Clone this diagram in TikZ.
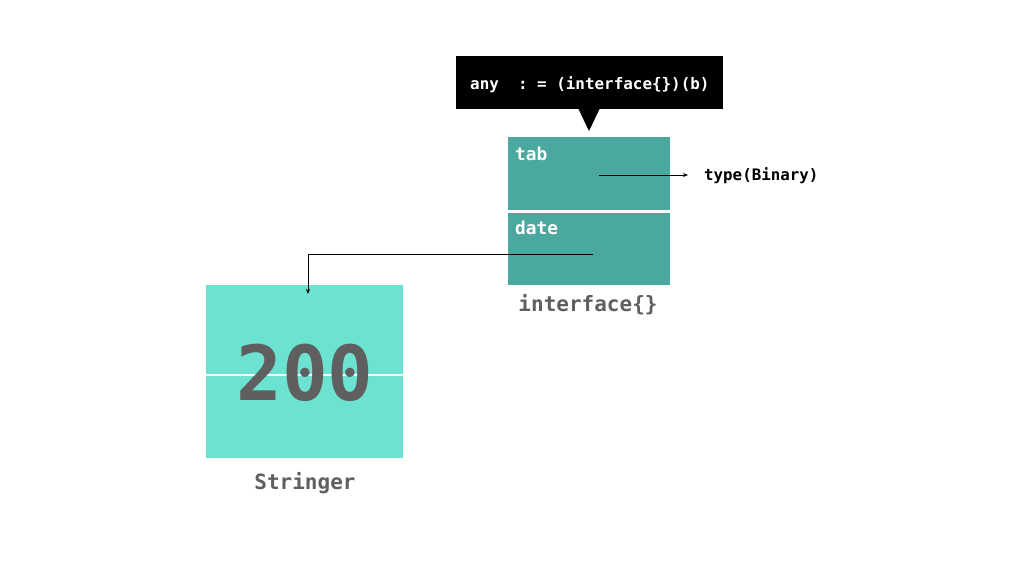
\documentclass[tikz,border=0pt]{standalone}
\usepackage{fontspec}
\setmonofont{DejaVu Sans Mono}
\usetikzlibrary{arrows.meta}
\definecolor{teal1}{HTML}{4BA89E}
\definecolor{mint}{HTML}{6CE3D0}
\definecolor{gtext}{HTML}{5F5F5F}
\tikzset{
  mono/.style={font=\ttfamily\bfseries},
  cell/.style={fill=teal1, draw=none},
  lbl/.style={mono, text=white, anchor=west, inner sep=0pt},
  captxt/.style={mono, text=gtext, inner sep=0pt},
  conn/.style={draw=black, line width=0.9pt, -{Stealth[length=5pt,width=4pt]}},
}
\begin{document}
\begin{tikzpicture}[x=1pt,y=-1pt]
\useasboundingbox[fill=white] (0,0) rectangle (1024,576);
% callout
\fill[black] (456,56) rectangle (723,109);
\fill[black] (578,108) -- (600,108) -- (589,131) -- cycle;
\node[mono, text=white, font=\ttfamily\bfseries\fontsize{15.9}{18}\selectfont, anchor=west, inner sep=0pt] (code) at (470,84.5) {any\ \ :\ =\ (interface\{\})(b)};
% interface boxes
\fill[cell] (508,137) rectangle (670,210);
\fill[cell] (508,213) rectangle (670,285);
\node[lbl, font=\ttfamily\bfseries\fontsize{17.8}{20}\selectfont] (tab) at (515,154) {tab};
\node[lbl, font=\ttfamily\bfseries\fontsize{17.8}{20}\selectfont] (date) at (515,228) {date};
\node[captxt, font=\ttfamily\bfseries\fontsize{21}{24}\selectfont] (iface) at (588,304.5) {interface\{\}};
\coordinate (tabsrc) at (599,175);
\coordinate (datesrc) at (593,254);
\node[mono, font=\ttfamily\bfseries\fontsize{15.8}{18}\selectfont, anchor=west, inner sep=0pt] (type) at (704,176) {type(Binary)};
% stringer box
\fill[mint] (206,285) rectangle (403,374);
\fill[mint] (206,376) rectangle (403,458);
\node[captxt, font=\ttfamily\bfseries\fontsize{76}{80}\selectfont] (val) at (305,373) {200};
\node[captxt, font=\ttfamily\bfseries\fontsize{21}{24}\selectfont] (str) at (305,483.5) {Stringer};
\coordinate (strtop) at (308,294);
% connectors
\draw[conn] (tabsrc) -- (688,175);
\draw[conn] (datesrc) -| (strtop);
\end{tikzpicture}
\end{document}
